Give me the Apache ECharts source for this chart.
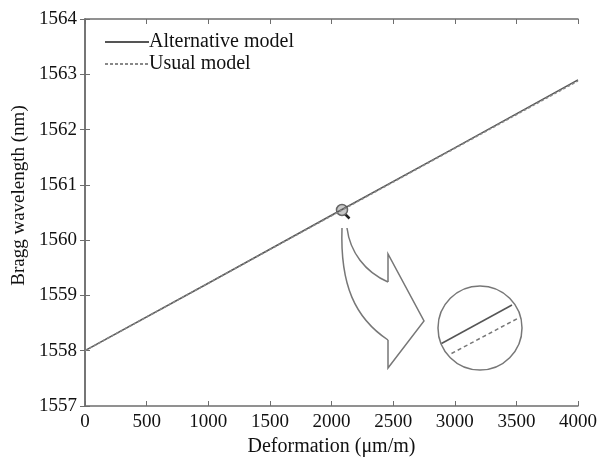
<!DOCTYPE html>
<html><head><meta charset="utf-8">
<script src="https://cdn.jsdelivr.net/npm/echarts@6/dist/echarts.min.js"></script>
<style>html,body{margin:0;padding:0;background:#fff}#c{width:601px;height:458px}</style>
</head><body><div id="c"></div>
<script>
const deformation = [0, 1000, 2000, 3000, 4000];
const alternativeModel = [1558.0, 1559.22, 1560.45, 1561.67, 1562.9];
const usualModel = [1558.0, 1559.22, 1560.44, 1561.66, 1562.88];
const xTicks = [0, 500, 1000, 1500, 2000, 2500, 3000, 3500, 4000];
const yTicks = [1557, 1558, 1559, 1560, 1561, 1562, 1563, 1564];
const seriesNames = ['Alternative model', 'Usual model'];

const font = 'Liberation Serif';
const axisCol = '#6e6e6e';
const lineCol = '#555';
const chart = echarts.init(document.getElementById('c'));
const axisCommon = {
  axisLine: {lineStyle: {color: axisCol, width: 1.5}},
  axisTick: {inside: true, length: 5, lineStyle: {color: axisCol}},
  splitLine: {show: false},
  axisLabel: {color: '#111', fontFamily: font, fontSize: 19, formatter: v => String(v)}
};
const deco = {fill: 'none', stroke: '#777', lineWidth: 1.5};
chart.setOption({
  animation: false,
  grid: {left: 85, right: 23, top: 19, bottom: 52, containLabel: false, outerBoundsMode: 'none'},
  legend: {
    orient: 'vertical', left: 104, top: 32, padding: 0, itemWidth: 44, itemHeight: 14, itemGap: 2,
    itemStyle: {opacity: 0},
    textStyle: {fontFamily: font, fontSize: 20, lineHeight: 20, color: '#111', padding: [0, 0, 0, -5]},
    data: seriesNames
  },
  xAxis: [Object.assign({
    type: 'value', min: xTicks[0], max: xTicks[xTicks.length - 1], interval: 500,
    name: 'Deformation (μm/m)', nameLocation: 'middle', nameGap: 31,
    nameTextStyle: {fontFamily: font, fontSize: 20, color: '#111'}
  }, axisCommon, {axisLabel: Object.assign({}, axisCommon.axisLabel, {margin: 7})}),
  Object.assign({type: 'value', position: 'top', min: 0, max: 4000, interval: 500}, axisCommon, {axisLabel: {show: false}})],
  yAxis: [Object.assign({
    type: 'value', min: yTicks[0], max: yTicks[yTicks.length - 1], interval: 1,
    name: 'Bragg wavelength (nm)', nameLocation: 'middle', nameGap: 50,
    nameTextStyle: {fontFamily: font, fontSize: 19, color: '#111', padding: [0, 0, 0, 34]}
  }, axisCommon, {axisLabel: Object.assign({}, axisCommon.axisLabel, {margin: 8})}),
  Object.assign({type: 'value', position: 'right', min: 1557, max: 1564, interval: 1}, axisCommon, {axisLabel: {show: false}})],
  series: [
    {name: seriesNames[0], type: 'line', symbol: 'none', data: deformation.map((x, i) => [x, alternativeModel[i]]),
     lineStyle: {color: lineCol, width: 1.5}, itemStyle: {color: lineCol}},
    {name: seriesNames[1], type: 'line', symbol: 'none', data: deformation.map((x, i) => [x, usualModel[i]]),
     lineStyle: {color: '#888', width: 1.5, type: [3, 2]}, itemStyle: {color: '#888'}}
  ],
  graphic: [
    {type: 'bezierCurve', shape: {x1: 342, y1: 228, cpx1: 340, cpy1: 285, cpx2: 355, cpy2: 318, x2: 388, y2: 340}, style: deco},
    {type: 'polyline', shape: {points: [[388, 340], [388, 368], [424, 321], [388, 254], [388, 282]]}, style: deco},
    {type: 'bezierCurve', shape: {x1: 388, y1: 282, cpx1: 365, cpy1: 272, cpx2: 350, cpy2: 252, x2: 347, y2: 228}, style: deco},
    {type: 'circle', shape: {cx: 480, cy: 328, r: 42}, style: {fill: '#fff', stroke: '#777', lineWidth: 1.5}},
    {type: 'line', shape: {x1: 441.5, y1: 343.5, x2: 512, y2: 305}, style: {stroke: '#555', lineWidth: 1.5}},
    {type: 'line', shape: {x1: 451.5, y1: 353.5, x2: 518.5, y2: 318}, style: {stroke: '#777', lineWidth: 1.5, lineDash: [4, 3]}},
    {type: 'line', shape: {x1: 345, y1: 214, x2: 349.5, y2: 218.5}, style: {stroke: '#222', lineWidth: 2.5}},
    {type: 'circle', shape: {cx: 342, cy: 210, r: 5.5}, style: {fill: '#c8c8c8', stroke: '#666', lineWidth: 1.5}}
  ]
});
</script></body></html>
